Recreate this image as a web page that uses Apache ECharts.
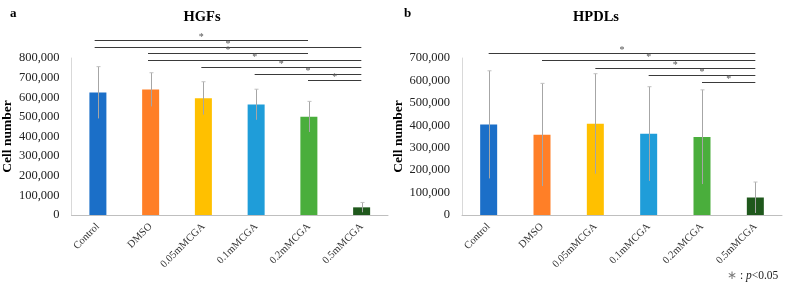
<!DOCTYPE html>
<html>
<head>
<meta charset="utf-8">
<script src="https://cdn.jsdelivr.net/npm/echarts@6/dist/echarts.min.js"></script>
<style>html,body{margin:0;padding:0;background:#fff}#c{width:788px;height:289px}</style>
</head>
<body>
<div id="c"></div>
<script>
var categories = ['Control', 'DMSO', '0.05mMCGA', '0.1mMCGA', '0.2mMCGA', '0.5mMCGA'];
var barColors = ['#1b6fc8', '#ff7f27', '#ffc000', '#1f9dd9', '#4aae3c', '#1f581c'];

var hgfMean = [624000, 639000, 595000, 563000, 501000, 39000];
var hgfErr  = [132000, 86000, 84000, 78000, 78000, 25000];
var hpdlMean = [403000, 358000, 407000, 362000, 348000, 78000];
var hpdlErr  = [240000, 229000, 223000, 210000, 210000, 69000];

var hgfYTicks = [0, 100000, 200000, 300000, 400000, 500000, 600000, 700000, 800000];
var hpdlYTicks = [0, 100000, 200000, 300000, 400000, 500000, 600000, 700000];

// significance brackets: from category index, to category index (top to bottom)
var hgfSigFrom = [0, 0, 1, 1, 2, 3, 4];
var hgfSigTo   = [4, 5, 4, 5, 5, 5, 5];
var hpdlSigFrom = [0, 1, 2, 3, 4];
var hpdlSigTo   = [5, 5, 5, 5, 5];

var SERIF = '"Liberation Serif", "Times New Roman", serif';

function fmt(v) { return v.toLocaleString('en-US'); }

function barData(means) {
  return means.map(function (v, i) { return { value: v, itemStyle: { color: barColors[i] } }; });
}
function errData(means, errs) {
  return means.map(function (v, i) { return [i, v, errs[i]]; });
}
function sigData(from, to) {
  return from.map(function (f, i) { return [f, to[i], i]; });
}

function renderErr(params, api) {
  var i = api.value(0), m = api.value(1), e = api.value(2);
  var top = api.coord([i, m + e]);
  var bot = api.coord([i, Math.max(m - e, 0)]);
  var x = Math.round(top[0]) + 0.5;
  return {
    type: 'group',
    children: [
      { type: 'line', shape: { x1: x, y1: top[1], x2: x, y2: bot[1] }, style: { stroke: '#a6a6a6', lineWidth: 1 } },
      { type: 'line', shape: { x1: x - 2, y1: top[1], x2: x + 2, y2: top[1] }, style: { stroke: '#c0c0c0', lineWidth: 1 } }
    ]
  };
}

function renderSig(params, api) {
  var a = api.coord([api.value(0), api.value(2)]);
  var b = api.coord([api.value(1), api.value(2)]);
  var y = Math.round(a[1]) + 0.5;
  return {
    type: 'group',
    children: [
      { type: 'line', shape: { x1: a[0], y1: y, x2: b[0], y2: y }, style: { stroke: '#3a3a3a', lineWidth: 1 } },
      { type: 'text', x: (a[0] + b[0]) / 2, y: y - 3,
        style: { text: '*', align: 'center', verticalAlign: 'middle', fill: '#555', font: '10px ' + SERIF } }
    ]
  };
}

function yAxisMain(grid, max, name) {
  return {
    type: 'value', gridIndex: grid, min: 0, max: max, interval: 100000,
    name: name, nameLocation: 'middle', nameGap: 56,
    nameTextStyle: { fontFamily: SERIF, fontWeight: 'bold', fontSize: 13.5, color: '#000' },
    axisLine: { show: true, lineStyle: { color: '#d9d9d9', width: 1 } },
    axisTick: { show: false }, splitLine: { show: false },
    axisLabel: { formatter: fmt, fontFamily: SERIF, fontSize: 12.5, color: '#222', margin: 12 }
  };
}
function xAxisMain(grid) {
  return {
    type: 'category', gridIndex: grid, data: categories,
    axisLine: { lineStyle: { color: '#bfbfbf', width: 1 } },
    axisTick: { show: false },
    axisLabel: { rotate: 45, interval: 0, fontFamily: SERIF, fontSize: 10.5, color: '#333', margin: 10 }
  };
}
function xAxisHidden(grid) {
  return { type: 'category', gridIndex: grid, data: categories, show: false };
}
function yAxisHidden(grid, maxLevel) {
  return { type: 'value', gridIndex: grid, min: 0, max: maxLevel, inverse: true, show: false };
}

var option = {
  animation: false,
  backgroundColor: '#fff',
  title: [
    { text: 'a', left: 5, top: 2, textStyle: { fontFamily: SERIF, fontWeight: 'bold', fontSize: 13, color: '#000' } },
    { text: 'HGFs', left: 197, top: 5, textAlign: 'center', textStyle: { fontFamily: SERIF, fontWeight: 'bold', fontSize: 14.5, color: '#000' } },
    { text: 'b', left: 399, top: 2, textStyle: { fontFamily: SERIF, fontWeight: 'bold', fontSize: 13, color: '#000' } },
    { text: 'HPDLs', left: 591, top: 5, textAlign: 'center', textStyle: { fontFamily: SERIF, fontWeight: 'bold', fontSize: 14.5, color: '#000' } },
    { text: '{s|∗} : {i|p}<0.05', left: 722, top: 265,
      textStyle: { fontFamily: SERIF, fontSize: 11.5, fontWeight: 'normal', color: '#222',
        rich: { s: { fontFamily: SERIF, fontSize: 11.5, fontWeight: 'normal', color: '#777' }, i: { fontFamily: SERIF, fontSize: 11.5, fontWeight: 'normal', fontStyle: 'italic', color: '#222' } } } }
  ],
  grid: [
    { left: 68, right: 400, top: 58, bottom: 74 },
    { left: 462, right: 6, top: 58, bottom: 74 },
    { left: 68, right: 400, top: 40, height: 40.3 },
    { left: 462, right: 6, top: 53.3, height: 28.4 }
  ],
  xAxis: [xAxisMain(0), xAxisMain(1), xAxisHidden(2), xAxisHidden(3)],
  yAxis: [yAxisMain(0, 800000, 'Cell number'), yAxisMain(1, 700000, 'Cell number'), yAxisHidden(2, 6), yAxisHidden(3, 4)],
  series: [
    { type: 'bar', xAxisIndex: 0, yAxisIndex: 0, data: barData(hgfMean), barWidth: 17 },
    { type: 'custom', xAxisIndex: 0, yAxisIndex: 0, data: errData(hgfMean, hgfErr), renderItem: renderErr, z: 5, encode: { x: 0, y: 1 } },
    { type: 'bar', xAxisIndex: 1, yAxisIndex: 1, data: barData(hpdlMean), barWidth: 17 },
    { type: 'custom', xAxisIndex: 1, yAxisIndex: 1, data: errData(hpdlMean, hpdlErr), renderItem: renderErr, z: 5, encode: { x: 0, y: 1 } },
    { type: 'custom', xAxisIndex: 2, yAxisIndex: 2, data: sigData(hgfSigFrom, hgfSigTo), renderItem: renderSig, encode: { x: [0, 1], y: 2 } },
    { type: 'custom', xAxisIndex: 3, yAxisIndex: 3, data: sigData(hpdlSigFrom, hpdlSigTo), renderItem: renderSig, encode: { x: [0, 1], y: 2 } }
  ]
};

var chart = echarts.init(document.getElementById('c'), null, { renderer: 'canvas' });
chart.setOption(option);
</script>
</body>
</html>
